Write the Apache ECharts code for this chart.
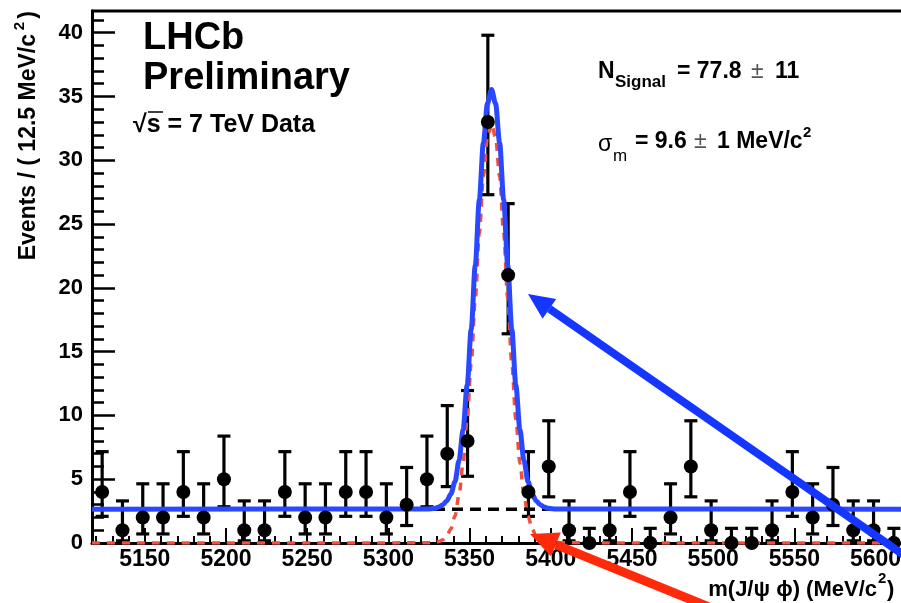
<!DOCTYPE html>
<html>
<head>
<meta charset="utf-8">
<script src="https://cdn.jsdelivr.net/npm/echarts@6/dist/echarts.min.js"></script>
<style>html,body{margin:0;padding:0;background:#fff}#c{width:901px;height:603px}</style>
</head>
<body>
<div id="c"></div>
<script>
// ---- data ----
const binCenters = [5123.75, 5136.25, 5148.75, 5161.25, 5173.75, 5186.25, 5198.75, 5211.25, 5223.75, 5236.25,
  5248.75, 5261.25, 5273.75, 5286.25, 5298.75, 5311.25, 5323.75, 5336.25, 5348.75, 5361.25,
  5373.75, 5386.25, 5398.75, 5411.25, 5423.75, 5436.25, 5448.75, 5461.25, 5473.75, 5486.25,
  5498.75, 5511.25, 5523.75, 5536.25, 5548.75, 5561.25, 5573.75, 5586.25, 5598.75, 5611.25];
const counts = [4, 1, 2, 2, 4, 2, 5, 1, 1, 4, 2, 2, 4, 4, 2, 3, 5, 7, 8, 33,
  21, 4, 6, 1, 0, 1, 4, 0, 2, 6, 1, 0, 0, 1, 4, 2, 3, 1, 1, 0];
const errLow = [2.09, 0.17, 0.71, 0.71, 2.09, 0.71, 2.84, 0.17, 0.17, 2.09, 0.71, 0.71, 2.09, 2.09, 0.71, 1.37, 2.84, 4.42, 5.23, 27.3,
  16.4, 2.09, 3.62, 0.17, 0, 0.17, 2.09, 0, 0.71, 3.62, 0.17, 0, 0, 0.17, 2.09, 0.71, 1.37, 0.17, 0.17, 0];
const errHigh = [7.16, 3.30, 4.64, 4.64, 7.16, 4.64, 8.38, 3.30, 3.30, 7.16, 4.64, 4.64, 7.16, 7.16, 4.64, 5.92, 8.38, 10.77, 11.95, 39.8,
  26.6, 7.16, 9.58, 3.30, 1.15, 3.30, 7.16, 1.15, 4.64, 9.58, 3.30, 1.15, 1.15, 3.30, 7.16, 4.64, 5.92, 3.30, 3.30, 1.15];
const curveX = [5117.5, 5323.5, 5326, 5328.5, 5331, 5333.5, 5336, 5338.5, 5341, 5343.5, 5346, 5348.5, 5351, 5353.5, 5356, 5358.5, 5361,
  5363.5, 5366, 5368.5, 5371, 5373.5, 5376, 5378.5, 5381, 5383.5, 5386, 5388.5, 5391, 5393.5, 5396, 5398.5, 5401, 5403.5, 5617.5];
const signalY = [0, 0.01, 0.02, 0.04, 0.11, 0.25, 0.54, 1.11, 2.11, 3.76, 6.24, 9.71, 14.09, 19.12, 24.25, 28.73, 31.80,
  32.90, 31.80, 28.73, 24.25, 19.12, 14.09, 9.71, 6.24, 3.76, 2.11, 1.11, 0.54, 0.25, 0.11, 0.04, 0.02, 0.01, 0];
const totalY = [2.65, 2.66, 2.68, 2.72, 2.82, 3.00, 3.30, 3.85, 4.80, 6.45, 8.89, 12.36, 16.74, 21.77, 26.90, 31.38, 34.45,
  35.55, 34.45, 31.38, 26.90, 21.77, 16.74, 12.36, 8.89, 6.45, 4.80, 3.85, 3.30, 3.00, 2.82, 2.72, 2.68, 2.66, 2.65];
const bkgX = [5117.5, 5617.5];
const bkgY = [2.65, 2.65];
const xTickLabels = [5150, 5200, 5250, 5300, 5350, 5400, 5450, 5500, 5550, 5600];
const yTickLabels = [0, 5, 10, 15, 20, 25, 30, 35, 40];
const X_MIN = 5117.5, X_MAX = 5617.5, Y_MIN = 0, Y_MAX = 41.7;

const xMinor = []; for (let v = 5120; v <= 5610; v += 10) xMinor.push(v);
const yMinor = []; for (let v = 0; v <= 41; v += 1) yMinor.push(v);

const FONT = '"Liberation Sans", Arial, Helvetica, sans-serif';
const BLUE = '#2a48ff', RED = '#f0503c';

const chart = echarts.init(document.getElementById('c'), null, {renderer: 'canvas'});

function txt(x, y, text, size, opt) {
  opt = opt || {};
  return {
    type: 'text', x: x, y: y, rotation: opt.rotation || 0, z: 100,
    style: {
      text: text, fontSize: size, fontWeight: opt.weight || 'bold', fontFamily: opt.family || FONT,
      fill: opt.fill || '#000', align: opt.align || 'left', verticalAlign: 'middle'
    }
  };
}

const option = {
  animation: false,
  grid: {left: 92, right: -3, top: 11, bottom: 60, outerBoundsMode: 'none', containLabel: false},
  xAxis: [
    {
      type: 'value', min: X_MIN, max: X_MAX, position: 'bottom',
      axisLine: {show: true, onZero: false, lineStyle: {color: '#000', width: 3}},
      axisTick: {show: true, inside: true, length: 15, customValues: xTickLabels, lineStyle: {color: '#000', width: 2}},
      axisLabel: {show: true, customValues: xTickLabels, margin: 5, color: '#000', fontSize: 23, fontWeight: 'bold', fontFamily: FONT,
        formatter: v => String(v)},
      splitLine: {show: false}
    },
    {
      type: 'value', min: X_MIN, max: X_MAX, position: 'bottom',
      axisLine: {show: false},
      axisTick: {show: true, inside: true, length: 7, customValues: xMinor, lineStyle: {color: '#000', width: 2}},
      axisLabel: {show: false},
      splitLine: {show: false}
    }
  ],
  yAxis: [
    {
      type: 'value', min: Y_MIN, max: Y_MAX, position: 'left',
      axisLine: {show: true, onZero: false, lineStyle: {color: '#000', width: 3}},
      axisTick: {show: true, inside: true, length: 23, customValues: yTickLabels, lineStyle: {color: '#000', width: 2.5}},
      axisLabel: {show: true, customValues: yTickLabels, margin: 9, color: '#000', fontSize: 22, fontWeight: 'bold', fontFamily: FONT,
        formatter: v => String(v)},
      splitLine: {show: false}
    },
    {
      type: 'value', min: Y_MIN, max: Y_MAX, position: 'left',
      axisLine: {show: false},
      axisTick: {show: true, inside: true, length: 12, customValues: yMinor, lineStyle: {color: '#000', width: 2.5}},
      axisLabel: {show: false},
      splitLine: {show: false}
    }
  ],
  series: [
    {
      type: 'custom', name: 'errors', xAxisIndex: 0, yAxisIndex: 0, z: 3,
      data: binCenters.map((x, i) => [x, errLow[i], errHigh[i]]),
      encode: {x: 0, y: [1, 2]},
      renderItem: function (params, api) {
        const x = api.value(0);
        const lo = api.coord([x, api.value(1)]);
        const hi = api.coord([x, api.value(2)]);
        const cw = 6.5;
        const st = {stroke: '#000', lineWidth: 3.2};
        return {
          type: 'group', children: [
            {type: 'line', shape: {x1: lo[0], y1: lo[1], x2: hi[0], y2: hi[1]}, style: st},
            {type: 'line', shape: {x1: lo[0] - cw, y1: lo[1], x2: lo[0] + cw, y2: lo[1]}, style: st},
            {type: 'line', shape: {x1: hi[0] - cw, y1: hi[1], x2: hi[0] + cw, y2: hi[1]}, style: st}
          ]
        };
      }
    },
    {
      type: 'line', name: 'signal', z: 4, symbol: 'none', smooth: 0.3, smoothMonotone: 'x',
      data: curveX.map((x, i) => [x, signalY[i]]),
      lineStyle: {color: RED, width: 3.5, type: [8, 7]}
    },
    {
      type: 'line', name: 'background', z: 5, symbol: 'none',
      data: bkgX.map((x, i) => [x, bkgY[i]]),
      lineStyle: {color: '#000', width: 3.5, type: [11, 7]}
    },
    {
      type: 'line', name: 'total', z: 6, symbol: 'none', smooth: 0.3, smoothMonotone: 'x',
      data: curveX.map((x, i) => [x, totalY[i]]),
      lineStyle: {color: BLUE, width: 5}
    },
    {
      type: 'scatter', name: 'data', z: 7, symbol: 'circle', symbolSize: 14,
      data: binCenters.map((x, i) => [x, counts[i]]),
      itemStyle: {color: '#000', opacity: 1}
    }
  ],
  graphic: [
    {type: 'line', z: 50, shape: {x1: 91, y1: 11, x2: 905, y2: 11}, style: {stroke: '#000', lineWidth: 3}},
    txt(143, 39, 'LHCb', 38),
    txt(143, 79, 'Preliminary', 38),
    txt(133, 125, '\u221As = 7 TeV Data', 25),
    {type: 'line', z: 100, shape: {x1: 148, y1: 112, x2: 163, y2: 112}, style: {stroke: '#000', lineWidth: 1.5}},
    // N_Signal line
    txt(598, 72, 'N', 23),
    txt(615, 82, 'Signal', 17),
    txt(677, 72, '= 77.8', 23),
    txt(751, 72, '\u00B1', 23, {weight: 'normal', fill: '#555'}),
    txt(775, 72, '11', 23),
    // sigma line
    txt(598, 145, '\u03C3', 23, {weight: 'normal'}),
    txt(613, 156, 'm', 17, {weight: 'normal'}),
    txt(635, 142, '= 9.6', 23),
    txt(694, 142, '\u00B1', 23, {weight: 'normal', fill: '#555'}),
    txt(717, 142, '1 MeV/c', 23),
    txt(803, 133, '2', 15),
    // x title
    txt(877, 590, 'm(J/\u03C8 \u03D5) (MeV/c', 22, {align: 'right'}),
    txt(878, 579, '2', 15),
    txt(887, 590, ')', 22),
    // y title
    txt(29, 34, 'Events / ( 12.5 MeV/c', 23, {align: 'right', rotation: Math.PI / 2}),
    txt(20, 26, '2', 15, {align: 'center', rotation: Math.PI / 2}),
    txt(29, 11, ')', 23, {align: 'right', rotation: Math.PI / 2}),
    // blue arrow
    {type: 'polyline', z: 120, shape: {points: [[549.4, 308.8], [960, 594]]}, style: {stroke: '#1436ff', lineWidth: 8}},
    {type: 'polygon', z: 121, shape: {points: [[528, 294], [542.6, 318.7], [556.2, 298.9]]}, style: {fill: '#1436ff'}},
    // red arrow
    {type: 'polyline', z: 120, shape: {points: [[555.9, 544.6], [790, 640]]}, style: {stroke: '#ff2a0a', lineWidth: 9}},
    {type: 'polygon', z: 121, shape: {points: [[530, 534], [551.0, 556.6], [560.8, 532.6]]}, style: {fill: '#ff2a0a'}}
  ]
};
chart.setOption(option);
</script>
</body>
</html>
